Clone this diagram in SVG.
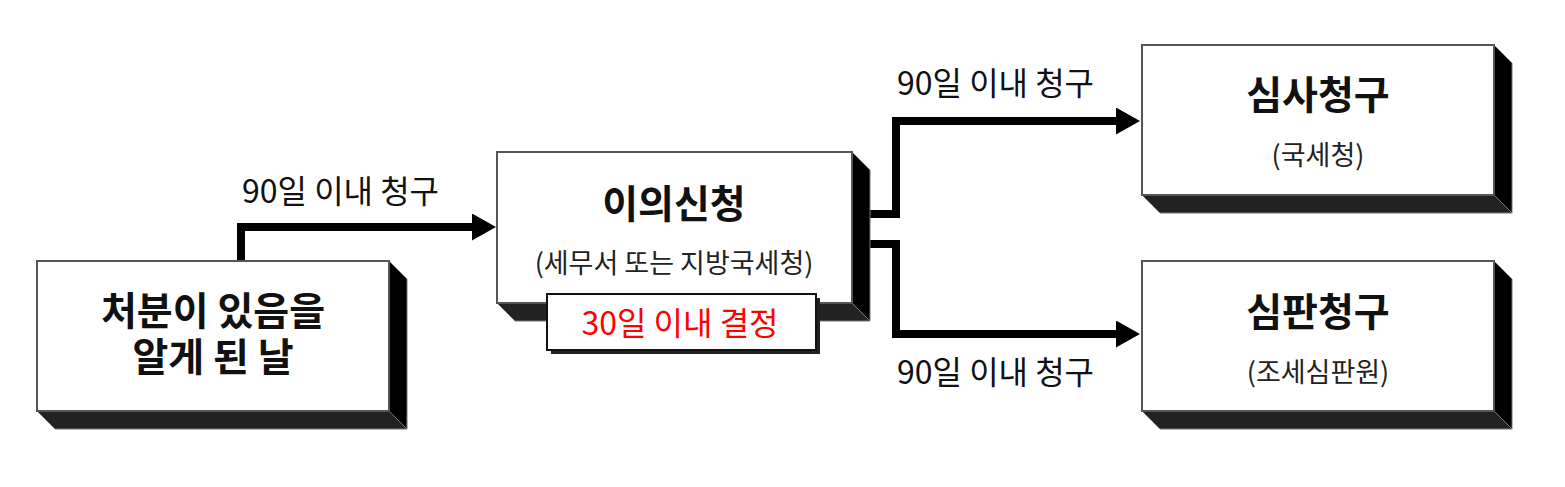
<svg xmlns="http://www.w3.org/2000/svg" width="1565" height="487" viewBox="0 0 1565 487">
<style>
.front{fill:#fff;stroke:#555;stroke-width:2}
.side{fill:#000;stroke:#777;stroke-width:1}
.bottom{fill:#222;stroke:#777;stroke-width:1}
.title{font-family:"Noto Sans CJK KR","Noto Sans",sans-serif;font-weight:700;font-size:39px;fill:#111;text-anchor:middle}
.sub{font-family:"Noto Sans CJK KR","Noto Sans",sans-serif;font-size:27px;fill:#222;text-anchor:middle}
.lbl{font-family:"Noto Sans CJK KR","Noto Sans",sans-serif;font-size:32px;fill:#111}
.conn{fill:none;stroke:#000;stroke-width:8;stroke-linejoin:miter}
</style>
<defs>
<marker id="arr" markerUnits="userSpaceOnUse" markerWidth="25" markerHeight="27" refX="0" refY="13.5" orient="auto">
<path d="M0,0 L24,13.5 L0,27 z" fill="#000"/>
</marker>
</defs>
<rect width="1565" height="487" fill="#fff"/>
<g id="connectors">
<path class="conn" d="M241,261 V227 H472" marker-end="url(#arr)"/>
<path class="conn" d="M870,214 H896 V121 H1116" marker-end="url(#arr)"/>
<path class="conn" d="M870,244 H896 V334 H1116" marker-end="url(#arr)"/>
<text class="lbl" x="242" y="203">90일 이내 청구</text>
<text class="lbl" x="897" y="95">90일 이내 청구</text>
<text class="lbl" x="897" y="384">90일 이내 청구</text>
</g>
<g id="node-start">
<polygon class="side" points="389,261 407,279 407,429 389,411"/>
<polygon class="bottom" points="37,411 389,411 407,429 55,429"/>
<rect class="front" x="37" y="261" width="352" height="150"/>
<text class="title"><tspan x="213" y="325">처분이 있음을</tspan><tspan x="213" y="371">알게 된 날</tspan></text>
</g>
<g id="node-objection">
<polygon class="side" points="852,152 870,170 870,321 852,303"/>
<polygon class="bottom" points="497,303 852,303 870,321 515,321"/>
<rect class="front" x="497" y="152" width="355" height="151"/>
<text class="title" x="674" y="218">이의신청</text>
<text class="sub" x="674" y="273">(세무서 또는 지방국세청)</text>
</g>
<g id="node-decision">
<rect x="551" y="298" width="269" height="56" fill="#222"/>
<rect x="547" y="294" width="269" height="56" fill="#fff" stroke="#111" stroke-width="2"/>
<text x="680" y="335" font-family="'Noto Sans CJK KR','Noto Sans',sans-serif" font-size="32" fill="#f00" text-anchor="middle">30일 이내 결정</text>
</g>
<g id="node-review">
<polygon class="side" points="1494,45 1512,63 1512,213 1494,195"/>
<polygon class="bottom" points="1142,195 1494,195 1512,213 1160,213"/>
<rect class="front" x="1142" y="45" width="352" height="150"/>
<text class="title" x="1318" y="109">심사청구</text>
<text class="sub" x="1318" y="165">(국세청)</text>
</g>
<g id="node-tribunal">
<polygon class="side" points="1494,261 1512,279 1512,429 1494,411"/>
<polygon class="bottom" points="1142,411 1494,411 1512,429 1160,429"/>
<rect class="front" x="1142" y="261" width="352" height="150"/>
<text class="title" x="1318" y="326">심판청구</text>
<text class="sub" x="1318" y="382">(조세심판원)</text>
</g>
</svg>
